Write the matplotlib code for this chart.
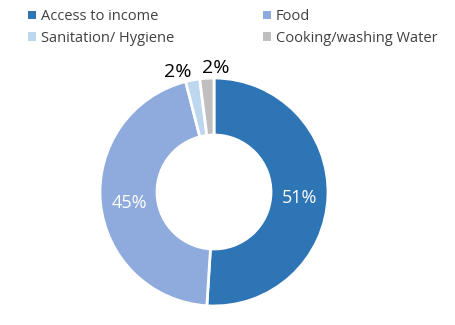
import matplotlib
matplotlib.use("Agg")
import matplotlib.pyplot as plt
from matplotlib.patches import Patch
import numpy as np

categories = ["Access to income", "Food", "Sanitation/ Hygiene", "Cooking/washing Water"]
values = [51, 45, 2, 2]
colors = ["#2E75B6", "#8FAADC", "#BDD7EE", "#BFBFBF"]
labels = ["51%", "45%", "2%", "2%"]

plt.rcParams['font.family'] = ['Open Sans', 'DejaVu Sans']

W, H = 455, 325
fig = plt.figure(figsize=(W/100, H/100), dpi=100)
cx, cy, R = 214, 192, 114
ax = fig.add_axes([(cx-R)/W, (H-cy-R)/H, 2*R/W, 2*R/H])
wedges, _ = ax.pie(values, colors=colors, startangle=90, counterclock=False,
                   radius=1, wedgeprops=dict(width=0.5, edgecolor="white", linewidth=2))
ax.set_xlim(-1, 1)
ax.set_ylim(-1, 1)
ax.set_aspect("equal")
ax.axis("off")

total = sum(values)
cum = 0
outside_offsets = {2: (-0.116, 0.0, 1.07), 3: (0.08, 0.0, 1.09)}
for i, (v, lab) in enumerate(zip(values, labels)):
    mid = 90 - (cum + v/2) / total * 360
    cum += v
    a = np.deg2rad(mid)
    if v > 10:
        r = 0.75
        ax.text(r*np.cos(a), r*np.sin(a) - 0.03, lab, ha="center", va="center",
                color="white", fontsize=13)
    else:
        dx, dy, r = outside_offsets[i]
        ax.text(r*np.cos(a) + dx, r*np.sin(a) + dy, lab, ha="center", va="center",
                color="black", fontsize=14, clip_on=False)

handles = [Patch(facecolor=c, edgecolor="none") for c in colors]
order = [0, 2, 1, 3]
fig.legend([handles[i] for i in order], [categories[i] for i in order],
           ncol=2, loc="upper left", bbox_to_anchor=(15/W, 1 + 4/H),
           frameon=False, fontsize=10.5, handlelength=0.55, handleheight=0.55,
           handletextpad=0.3, columnspacing=6.15, labelspacing=0.45,
           labelcolor="#404040")
fig.savefig("out.png", dpi=100)
